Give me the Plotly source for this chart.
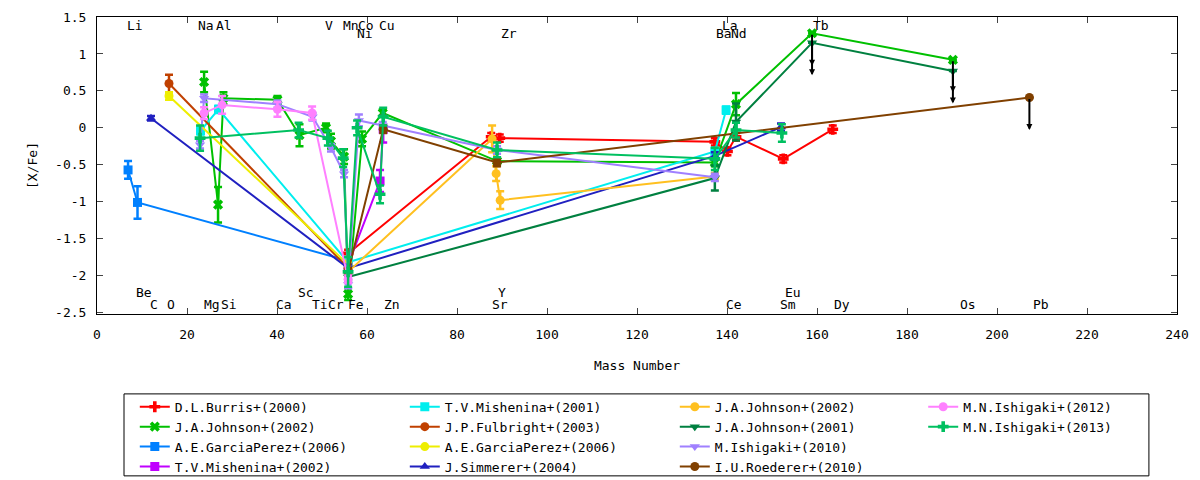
import plotly.graph_objects as go

# element labels (mass position, text row)
elem_top = ["Li", "Na", "Al", "V", "Mn", "Co", "Cu", "La", "Tb"]
elem_top_x = [6.2, 22.0, 26.1, 50.2, 54.2, 57.6, 62.2, 138.4, 158.7]
elem_top2 = ["Ni", "Zr", "Ba", "Nd"]
elem_top2_x = [57.3, 89.3, 137.1, 140.4]
elem_bot = ["C", "O", "Mg", "Si", "Ca", "Ti", "Cr", "Fe", "Zn", "Sr", "Ce", "Sm", "Dy", "Os", "Pb"]
elem_bot_x = [11.3, 15.1, 23.3, 27.1, 39.3, 47.3, 50.9, 55.3, 63.3, 87.3, 139.3, 151.3, 163.3, 191.3, 207.6]
elem_bot2 = ["Be", "Sc", "Y", "Eu"]
elem_bot2_x = [8.2, 44.2, 88.7, 152.4]

# series: mass, [X/Fe], error
burris_x = [55.8, 87.6, 89.5, 137.3, 140.1, 142.0, 152.5, 163.5]
burris_y = [-1.7, -0.12, -0.14, -0.19, -0.32, -0.12, -0.42, -0.02]
burris_e = [0.05, 0.05, 0.05, 0.05, 0.05, 0.05, 0.05, 0.05]

johnson02g_x = [23.8, 26.9, 28.1, 40.1, 45.0, 50.9, 52.0, 54.9, 55.8, 58.9, 63.5, 88.9, 137.3, 142.0, 158.9, 190.2]
johnson02g_y = [0.62, -1.04, 0.4, 0.38, -0.1, 0.0, -0.18, -0.39, -2.25, -0.15, 0.2, -0.45, -0.47, 0.32, 1.28, 0.92]
johnson02g_e = [0.14, 0.24, 0.08, 0.05, 0.15, 0.06, 0.1, 0.1, 0.08, 0.1, 0.05, 0.05, 0.05, 0.15, 0.0, 0.0]
johnson02g_ul = [14, 15]

garcia_b_x = [6.9, 9.0, 55.8]
garcia_b_y = [-0.57, -1.01, -1.8]
garcia_b_e = [0.12, 0.22, 0.05]

mish02_x = [55.8, 62.9, 63.6]
mish02_y = [-1.85, -0.72, -0.02]
mish02_e = [0.05, 0.15, 0.18]

mish01_x = [23.0, 27.0, 55.8, 137.3, 139.8]
mish01_y = [-0.04, 0.25, -1.82, -0.32, 0.24]
mish01_e = [0.05, 0.05, 0.05, 0.05, 0.05]

fulbright_x = [16.0, 55.8]
fulbright_y = [0.6, -1.9]
fulbright_e = [0.12, 0.05]

garcia_y_x = [16.0, 55.8]
garcia_y_y = [0.43, -1.85]
garcia_y_e = [0.05, 0.05]

simmerer_x = [12.0, 55.8, 137.3, 152.0]
simmerer_y = [0.13, -1.9, -0.38, 0.01]
simmerer_e = [0.03, 0.05, 0.05, 0.05]

johnson02o_x = [55.8, 87.8, 88.7, 89.6, 137.3]
johnson02o_y = [-1.95, -0.15, -0.62, -0.98, -0.66]
johnson02o_e = [0.05, 0.18, 0.1, 0.12, 0.05]

johnson01_x = [55.8, 137.3, 142.0, 158.9, 190.2]
johnson01_y = [-2.02, -0.68, 0.08, 1.15, 0.77]
johnson01_e = [0.05, 0.17, 0.25, 0.0, 0.0]
johnson01_ul = [3, 4]

ishigaki10_x = [22.9, 23.8, 40.1, 47.9, 52.0, 54.9, 55.8, 58.2, 63.5, 88.9, 137.3]
ishigaki10_y = [-0.23, 0.4, 0.32, 0.15, -0.27, -0.62, -2.12, 0.1, 0.03, -0.3, -0.67]
ishigaki10_e = [0.05, 0.05, 0.05, 0.05, 0.05, 0.05, 0.05, 0.08, 0.05, 0.05, 0.05]

roederer_x = [55.8, 63.6, 88.9, 207.2]
roederer_y = [-1.95, -0.02, -0.47, 0.41]
roederer_e = [0.05, 0.05, 0.05, 0.0]
roederer_ul = [3]

ishigaki12_x = [23.8, 27.8, 40.1, 47.8, 55.8]
ishigaki12_y = [0.2, 0.31, 0.25, 0.2, -2.05]
ishigaki12_e = [0.08, 0.12, 0.1, 0.09, 0.05]

ishigaki13_x = [22.9, 44.8, 51.3, 54.7, 55.8, 57.8, 62.9, 63.6, 88.9, 137.3, 142.0, 152.2]
ishigaki13_y = [-0.14, -0.03, -0.14, -0.41, -1.95, 0.0, -0.9, 0.15, -0.3, -0.42, -0.03, -0.07]
ishigaki13_e = [0.17, 0.1, 0.1, 0.12, 0.2, 0.1, 0.12, 0.12, 0.1, 0.15, 0.1, 0.12]

x_ticks = [0, 20, 40, 60, 80, 100, 120, 140, 160, 180, 200, 220, 240]
y_ticks = [-2.5, -2, -1.5, -1, -0.5, 0, 0.5, 1, 1.5]
y_tick_labels = ["-2.5", "-2", "-1.5", "-1", "-0.5", "0", "0.5", "1", "1.5"]

series = [
    ("D.L.Burris+(2000)", "#ff0000", "cross", burris_x, burris_y, burris_e, [], "legend"),
    ("J.A.Johnson+(2002)", "#00c000", "x", johnson02g_x, johnson02g_y, johnson02g_e, johnson02g_ul, "legend"),
    ("A.E.GarciaPerez+(2006)", "#0080ff", "square", garcia_b_x, garcia_b_y, garcia_b_e, [], "legend"),
    ("T.V.Mishenina+(2002)", "#c000ff", "square", mish02_x, mish02_y, mish02_e, [], "legend"),
    ("T.V.Mishenina+(2001)", "#00eeee", "square", mish01_x, mish01_y, mish01_e, [], "legend2"),
    ("J.P.Fulbright+(2003)", "#c04000", "circle", fulbright_x, fulbright_y, fulbright_e, [], "legend2"),
    ("A.E.GarciaPerez+(2006)", "#eeee00", "circle", garcia_y_x, garcia_y_y, garcia_y_e, [], "legend2"),
    ("J.Simmerer+(2004)", "#2020c0", "triangle-up", simmerer_x, simmerer_y, simmerer_e, [], "legend2"),
    ("J.A.Johnson+(2002)", "#ffc020", "circle", johnson02o_x, johnson02o_y, johnson02o_e, [], "legend3"),
    ("J.A.Johnson+(2001)", "#008040", "triangle-down", johnson01_x, johnson01_y, johnson01_e, johnson01_ul, "legend3"),
    ("M.Ishigaki+(2010)", "#a080ff", "triangle-down", ishigaki10_x, ishigaki10_y, ishigaki10_e, [], "legend3"),
    ("I.U.Roederer+(2010)", "#804000", "circle", roederer_x, roederer_y, roederer_e, roederer_ul, "legend3"),
    ("M.N.Ishigaki+(2012)", "#ff80ff", "circle", ishigaki12_x, ishigaki12_y, ishigaki12_e, [], "legend4"),
    ("M.N.Ishigaki+(2013)", "#00c060", "cross", ishigaki13_x, ishigaki13_y, ishigaki13_e, [], "legend4"),
]

mono = "DejaVu Sans Mono"
fig = go.Figure()

for name, color, sym, xs, ys, es, ul, leg in series:
    fig.add_trace(go.Scatter(
        x=xs, y=ys, name=name, mode="lines+markers", legend=leg,
        line=dict(color=color, width=2),
        marker=dict(color=color, symbol=sym, size=9),
        error_y=dict(type="data", array=es, color=color, thickness=2.5, width=4),
    ))

# upper limits drawn as black down arrows
for name, color, sym, xs, ys, es, ul, leg in series:
    for i in ul:
        fig.add_annotation(x=xs[i], y=ys[i] - 0.44, ax=xs[i], ay=ys[i],
                           xref="x", yref="y", axref="x", ayref="y",
                           text="", showarrow=True, arrowhead=2, arrowsize=0.6,
                           arrowwidth=2, arrowcolor="black")

for names, xs, yv in [(elem_top, elem_top_x, 1.39), (elem_top2, elem_top2_x, 1.27),
                      (elem_bot, elem_bot_x, -2.39), (elem_bot2, elem_bot2_x, -2.23)]:
    for t, xv in zip(names, xs):
        fig.add_annotation(x=xv, y=yv, text=t, showarrow=False, xanchor="left",
                           yanchor="middle", font=dict(family=mono, size=13, color="black"))

fig.add_shape(type="rect", xref="paper", yref="paper", x0=0.025, x1=0.974,
              y0=-0.545, y1=-0.269, line=dict(color="black", width=1))

leg_common = dict(orientation="v", yanchor="top", xanchor="left", y=-0.262,
                  bgcolor="rgba(0,0,0,0)", borderwidth=0, tracegroupgap=0,
                  font=dict(family=mono, size=13, color="black"))

# page body has an 8px margin, so the figure is sized and offset to suit
fig.update_layout(
    width=1192, height=472,
    paper_bgcolor="white", plot_bgcolor="white",
    margin=dict(l=89, r=23, t=9, b=166, autoexpand=False),
    font=dict(family=mono, size=13, color="black"),
    legend=dict(x=0.035, **leg_common),
    legend2=dict(x=0.285, **leg_common),
    legend3=dict(x=0.535, **leg_common),
    legend4=dict(x=0.765, **leg_common),
    xaxis=dict(range=[0, 240], tickvals=x_ticks, ticks="inside", ticklen=6,
               showline=True, linecolor="black", linewidth=1, mirror="allticks",
               showgrid=False, zeroline=False, automargin=False,
               ticklabelstandoff=8,
               tickfont=dict(family=mono, size=13),
               title=dict(text="Mass Number", standoff=20, font=dict(family=mono, size=13))),
    yaxis=dict(range=[-2.52, 1.5], tickvals=y_ticks, ticktext=y_tick_labels,
               ticks="inside", ticklen=6,
               showline=True, linecolor="black", linewidth=1, mirror="allticks",
               showgrid=False, zeroline=False, automargin=False,
               ticklabelstandoff=7,
               tickfont=dict(family=mono, size=13),
               title=dict(text="[X/Fe]", standoff=14, font=dict(family=mono, size=13))),
)

fig.write_html("out.html")
